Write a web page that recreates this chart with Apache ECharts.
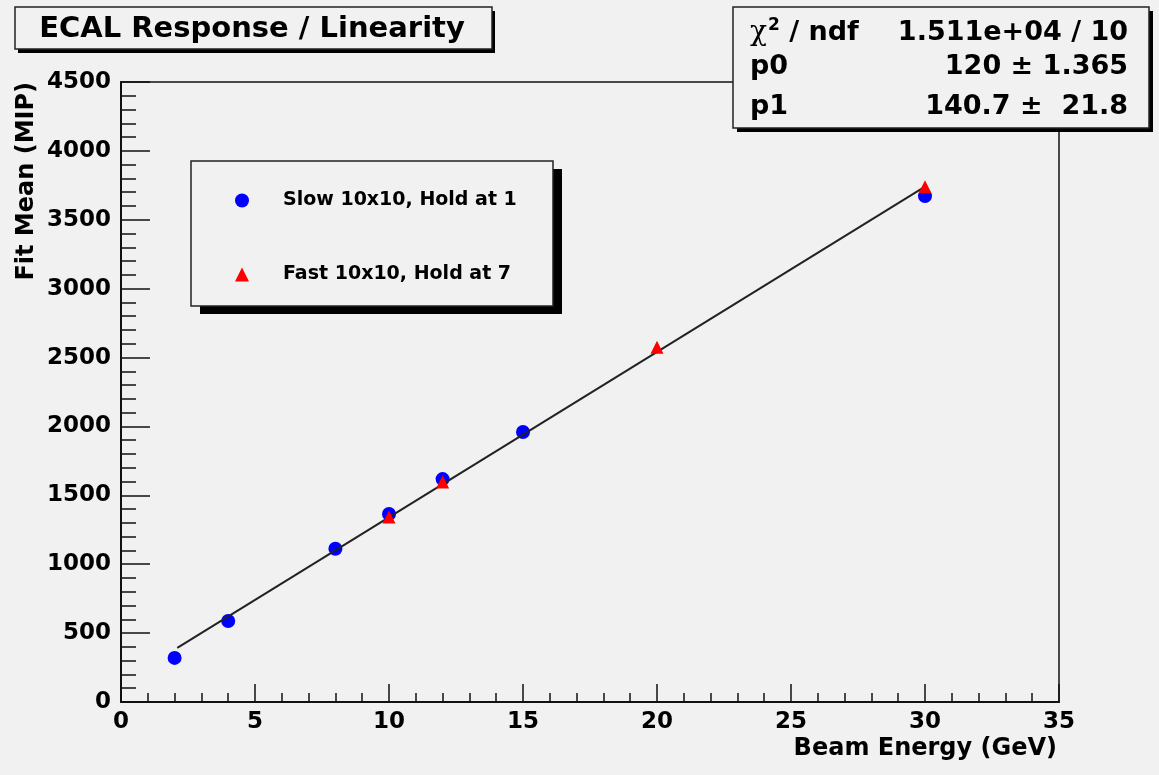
<!DOCTYPE html>
<html>
<head>
<meta charset="utf-8">
<script src="https://cdn.jsdelivr.net/npm/echarts@6/dist/echarts.min.js"></script>
<style>
html,body{margin:0;padding:0;background:#f1f1f1;}
#c{width:1159px;height:775px;}
</style>
</head>
<body>
<div id="c"></div>
<script>
// ---- data ----
const slowX = [2, 4, 8, 10, 12, 15, 30];
const slowY = [320, 588, 1112, 1364, 1618, 1960, 3672];
const fastX = [10, 12, 20, 30];
const fastY = [1342, 1597, 2575, 3740];
const fitX = [2.1, 30];
const fitY = [393, 3741];
const seriesNames = ['Slow 10x10, Hold at 1', 'Fast 10x10, Hold at 7'];
const titleText = 'ECAL Response / Linearity';
const statsLabels = ['p0', 'p1'];
const statsValues = ['1.511e+04 / 10', '120 \u00b1 1.365', '140.7 \u00b1  21.8'];
const xTitle = 'Beam Energy (GeV)';
const yTitle = 'Fit Mean (MIP)';

const FONT = 'DejaVu Sans';
const zip = (a, b) => a.map((v, i) => [v, b[i]]);

const chart = echarts.init(document.getElementById('c'), null, {renderer: 'canvas'});

const boxes = [];
function shadowBox(x, y, w, h, dx, dy) {
  boxes.push({type: 'rect', z: 10, shape: {x: x + dx, y: y + dy, width: w, height: h}, style: {fill: '#000'}});
  boxes.push({type: 'rect', z: 11, shape: {x: x, y: y, width: w, height: h}, style: {fill: '#f1f1f1', stroke: '#222', lineWidth: 1.5}});
}
shadowBox(15, 7, 477, 42, 3, 4);     // title
shadowBox(733, 7, 416, 121, 4, 4);   // stats
shadowBox(191, 161, 362, 145, 9, 8); // legend

const texts = [
  {type: 'text', z: 12, x: 252, y: 29, style: {text: titleText, font: 'bold 29px "' + FONT + '"', fill: '#000', align: 'center', verticalAlign: 'middle'}},
  {type: 'text', z: 12, x: 750, y: 33, style: {
    text: '{c|\u03c7}{s|2}{n| / ndf}', fill: '#000', align: 'left', verticalAlign: 'middle',
    rich: {
      c: {font: '28px "DejaVu Serif"', fill: '#000'},
      s: {font: 'bold 17px "' + FONT + '"', fill: '#000', verticalAlign: 'top', padding: [0, 0, 14, 1]},
      n: {font: 'bold 27px "' + FONT + '"', fill: '#000'}
    }}},
  {type: 'text', z: 12, x: 1128, y: 33, style: {text: statsValues[0], font: 'bold 27px "' + FONT + '"', fill: '#000', align: 'right', verticalAlign: 'middle'}},
  {type: 'text', z: 12, x: 750, y: 67, style: {text: statsLabels[0], font: 'bold 27px "' + FONT + '"', fill: '#000', align: 'left', verticalAlign: 'middle'}},
  {type: 'text', z: 12, x: 1128, y: 67, style: {text: statsValues[1], font: 'bold 27px "' + FONT + '"', fill: '#000', align: 'right', verticalAlign: 'middle'}},
  {type: 'text', z: 12, x: 750, y: 107, style: {text: statsLabels[1], font: 'bold 27px "' + FONT + '"', fill: '#000', align: 'left', verticalAlign: 'middle'}},
  {type: 'text', z: 12, x: 1128, y: 107, style: {text: statsValues[2], font: 'bold 27px "' + FONT + '"', fill: '#000', align: 'right', verticalAlign: 'middle'}},
  {type: 'text', z: 12, x: 1057, y: 749, style: {text: xTitle, font: 'bold 24px "' + FONT + '"', fill: '#000', align: 'right', verticalAlign: 'middle'}},
  {type: 'text', z: 12, x: 27, y: 82, rotation: Math.PI / 2, style: {text: yTitle, font: 'bold 24px "' + FONT + '"', fill: '#000', align: 'right', verticalAlign: 'middle'}}
];

const axisLabelStyle = {color: '#000', fontFamily: FONT, fontWeight: 'bold', fontSize: 23, formatter: v => String(v)};

chart.setOption({
  backgroundColor: '#f1f1f1',
  animation: false,
  grid: {left: 121, right: 100, top: 82, bottom: 73, show: true, borderColor: '#111', borderWidth: 1.5, backgroundColor: 'transparent'},
  xAxis: {
    type: 'value', min: 0, max: 35, interval: 5,
    axisLine: {show: true, onZero: false, lineStyle: {color: '#111', width: 2}},
    axisTick: {show: true, inside: true, length: 18, lineStyle: {color: '#111', width: 1.5}},
    minorTick: {show: true, splitNumber: 5, length: 9, lineStyle: {color: '#111', width: 1.5}},
    splitLine: {show: false},
    axisLabel: Object.assign({margin: 9}, axisLabelStyle)
  },
  yAxis: {
    type: 'value', min: 0, max: 4500, interval: 500,
    axisLine: {show: true, onZero: false, lineStyle: {color: '#111', width: 2}},
    axisTick: {show: true, inside: true, length: 29, lineStyle: {color: '#111', width: 1.5}},
    minorTick: {show: true, splitNumber: 5, length: 15, lineStyle: {color: '#111', width: 1.5}},
    splitLine: {show: false},
    axisLabel: Object.assign({margin: 10}, axisLabelStyle)
  },
  legend: {
    z: 20, orient: 'vertical', left: 230, top: 186, itemGap: 55, itemWidth: 14, itemHeight: 14,
    data: seriesNames,
    formatter: name => '{s|}{t|' + name + '}',
    textStyle: {
      color: '#000', fontFamily: FONT, fontWeight: 'bold', fontSize: 19,
      rich: {s: {width: 29}, t: {color: '#000', fontFamily: FONT, fontWeight: 'bold', fontSize: 19}}
    }
  },
  graphic: {elements: boxes.concat(texts)},
  series: [
    {name: seriesNames[0], type: 'scatter', symbol: 'circle', symbolSize: 14, z: 3,
     itemStyle: {color: '#0000ff', opacity: 1}, data: zip(slowX, slowY)},
    {name: 'fit', type: 'line', showSymbol: false, symbol: 'none', z: 4, silent: true,
     lineStyle: {color: '#222', width: 2}, data: zip(fitX, fitY)},
    {name: seriesNames[1], type: 'scatter', symbol: 'triangle', symbolSize: 13, z: 5,
     itemStyle: {color: '#ff0000', opacity: 1}, data: zip(fastX, fastY)}
  ]
});
</script>
</body>
</html>
